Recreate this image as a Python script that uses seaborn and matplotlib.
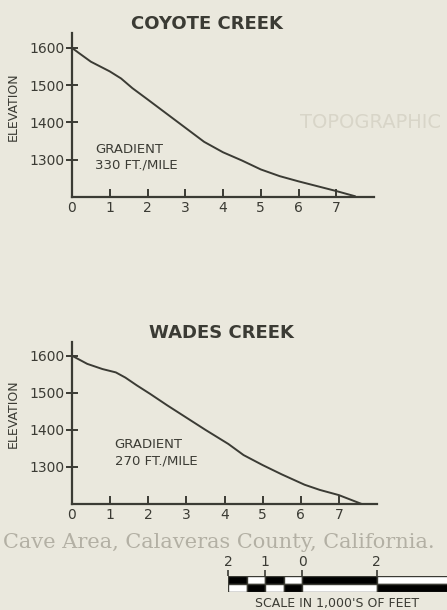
import matplotlib
matplotlib.use("Agg")
import matplotlib.pyplot as plt
import pandas as pd
import seaborn as sns

# stream profiles, miles vs elevation (ft)
coyote_miles = [0, 0.2, 0.5, 1.0, 1.3, 1.6, 2.0, 2.5, 3.0, 3.5, 4.0, 4.5, 5.0, 5.5, 6.0, 6.5, 7.0, 7.5]
coyote_elev = [1600, 1585, 1563, 1537, 1518, 1492, 1462, 1424, 1386, 1348, 1320, 1298, 1274, 1256, 1242, 1229, 1216, 1202]

wades_miles = [0, 0.4, 0.8, 1.15, 1.4, 1.7, 2.05, 2.5, 3.0, 3.5, 4.1, 4.5, 5.0, 5.5, 6.1, 6.5, 7.0, 7.6]
wades_elev = [1600, 1578, 1564, 1555, 1541, 1520, 1497, 1466, 1433, 1400, 1362, 1332, 1305, 1280, 1252, 1238, 1224, 1200]

x_ticks = [0, 1, 2, 3, 4, 5, 6, 7]
y_ticks = [1300, 1400, 1500, 1600]

# scale bar, 1,000's of feet
scale_left = [-2, -1.5, -1, -0.5, 0, 2]
scale_width = [0.5, 0.5, 0.5, 0.5, 2, 2]
scale_top = ["k", "w", "k", "w", "k", "w"]
scale_bottom = ["w", "k", "w", "k", "w", "k"]
scale_ticks = [-2, -1, 0, 2]
scale_labels = ["2", "1", "0", "2"]

paper = "#eae8dd"
ink = "#3b3b34"

sns.set_style("ticks")
plt.rcParams["font.family"] = ["DejaVu Sans"]

fig = plt.figure(figsize=(4.47, 6.10), dpi=100, facecolor=paper)

# faint text showing through from the next page
fig.text(300 / 447, 1 - 122 / 610, "TOPOGRAPHIC", fontsize=14, color="#d8d5c8",
         va="center", family="DejaVu Sans")
fig.text(3 / 447, 1 - 542 / 610, "Cave Area, Calaveras County, California.", fontsize=15,
         color="#b3b0a4", va="center", family="DejaVu Serif")


def profile(rect, miles, elev, title, title_x, grad, grad_xy, ytop, ylab_y):
    ax = fig.add_axes(rect)
    ax.set_facecolor("none")
    df = pd.DataFrame({"miles": miles, "elev": elev})
    sns.lineplot(data=df, x="miles", y="elev", ax=ax, color=ink, linewidth=1.4)
    ax.set_xlim(0, 8)
    ax.set_ylim(1200, ytop)
    ax.set_xticks(x_ticks)
    ax.set_yticks(y_ticks)
    sns.despine(ax=ax)
    for s in ["left", "bottom"]:
        ax.spines[s].set_linewidth(1.6)
        ax.spines[s].set_color(ink)
    ax.tick_params(axis="x", direction="in", length=6, width=1.4, color=ink,
                   labelsize=10, labelcolor=ink, pad=3)
    ax.tick_params(axis="y", direction="inout", length=8, width=1.4, color=ink,
                   labelsize=10, labelcolor=ink, pad=1)
    ax.set_xlabel("")
    ax.set_ylabel("ELEVATION", fontsize=9, color=ink)
    ax.yaxis.set_label_coords(-0.172, ylab_y)
    ax.text(title_x, 1.0, title, transform=ax.transAxes, ha="center", va="bottom",
            fontsize=13, fontweight="bold", color=ink)
    ax.text(grad_xy[0], grad_xy[1], grad, fontsize=9.5, color=ink, va="center",
            linespacing=1.3)
    return ax


profile([72 / 447, 413 / 610, 302 / 447, 164 / 610], coyote_miles, coyote_elev,
        "COYOTE CREEK", 0.447, "GRADIENT\n330 FT./MILE", (0.62, 1307), 1640, 0.55)
profile([72 / 447, 106 / 610, 305 / 447, 162 / 610], wades_miles, wades_elev,
        "WADES CREEK", 0.49, "GRADIENT\n270 FT./MILE", (1.12, 1338), 1637, 0.556)

# scale bar
sax = fig.add_axes([228 / 447, 18 / 610, (460 - 228) / 447, 16 / 610])
sax.set_facecolor("none")
sax.barh([1.5] * len(scale_left), scale_width, left=scale_left, height=1,
         color=scale_top, edgecolor=ink, linewidth=1)
sax.barh([0.5] * len(scale_left), scale_width, left=scale_left, height=1,
         color=scale_bottom, edgecolor=ink, linewidth=1)
sax.set_xlim(-2, (460 - 303) / 37)
sax.set_ylim(0, 2)
sax.set_yticks([])
sax.xaxis.tick_top()
sax.set_xticks(scale_ticks)
sax.set_xticklabels(scale_labels)
sax.tick_params(axis="x", direction="out", length=4, width=1.2, color=ink,
                labelsize=10, labelcolor=ink, pad=1)
for s in sax.spines.values():
    s.set_visible(False)
fig.text(337 / 447, 1 - 603 / 610, "SCALE IN 1,000'S OF FEET", ha="center", va="center",
         fontsize=9, color=ink)

fig.savefig("out.png", dpi=100, facecolor=paper)
